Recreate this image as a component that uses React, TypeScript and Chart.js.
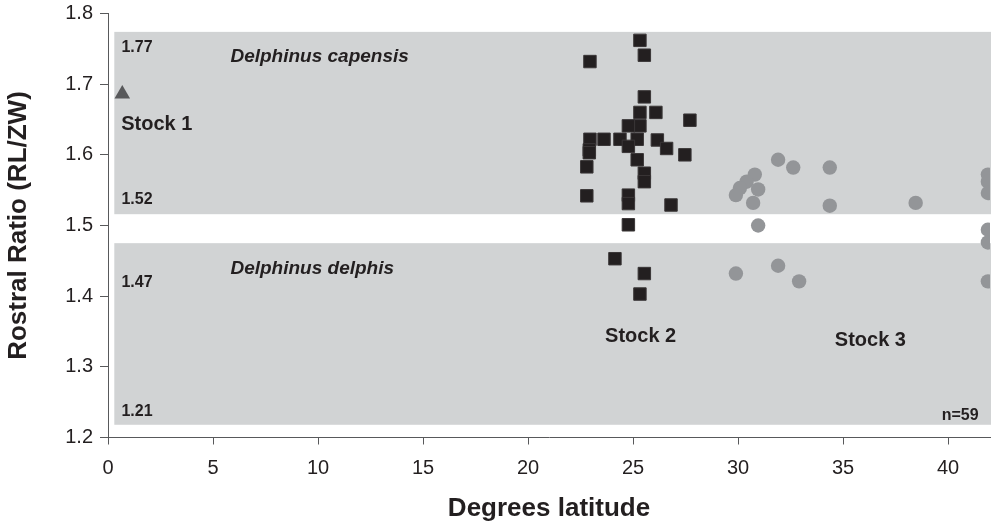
import { useEffect, useRef } from "react";
import { Chart, registerables } from "chart.js";

Chart.register(...registerables);

// ---- data ----
const stock1X = [0.68];
const stock1Y = [1.686];

const stock2X = [25.33, 25.54, 22.95, 25.54, 25.33, 26.09, 25.33, 24.78, 27.71, 23.62, 24.38, 25.2, 26.16, 26.6, 24.78, 27.47, 22.95, 22.92, 22.92, 22.8, 25.2, 25.54, 25.54, 22.8, 24.78, 24.78, 26.81, 24.78, 24.14, 25.54, 25.33];
const stock2Y = [1.762, 1.741, 1.732, 1.682, 1.66, 1.66, 1.641, 1.641, 1.649, 1.622, 1.622, 1.622, 1.621, 1.609, 1.612, 1.6, 1.622, 1.607, 1.603, 1.583, 1.593, 1.574, 1.562, 1.542, 1.543, 1.531, 1.529, 1.501, 1.453, 1.432, 1.403];

const stock3X = [31.91, 32.63, 34.37, 30.8, 30.41, 30.09, 29.9, 30.96, 30.72, 34.37, 38.46, 41.9, 41.9, 41.9, 30.96, 41.9, 41.9, 29.9, 31.91, 32.91, 41.9];
const stock3Y = [1.593, 1.582, 1.582, 1.572, 1.562, 1.553, 1.543, 1.551, 1.532, 1.528, 1.532, 1.572, 1.562, 1.546, 1.5, 1.494, 1.476, 1.432, 1.443, 1.421, 1.421];

const xTickValues = [0, 5, 10, 15, 20, 25, 30, 35, 40];
const yTickLabels = ["1.2", "1.3", "1.4", "1.5", "1.6", "1.7", "1.8"];

const bandTop = [1.774, 1.475];
const bandBottom = [1.516, 1.218];
const bandLeft = 0.3;

const labelTexts = ["1.77", "Delphinus capensis", "Stock 1", "1.52", "Delphinus delphis", "1.47", "Stock 2", "Stock 3", "1.21", "n=59"];
const labelKinds = ["value", "species", "stock", "value", "species", "value", "stock", "stock", "value", "count"];
const labelX = [0.64, 5.83, 0.63, 0.64, 5.83, 0.64, 23.67, 34.61, 0.64, 41.46];
const labelY = [1.7455, 1.732, 1.635, 1.5304, 1.431, 1.413, 1.335, 1.329, 1.2298, 1.2248];

const FONT = "'Liberation Sans', Arial, Helvetica, sans-serif";

const kindFont: Record<string, string> = {
  value: `bold 16px ${FONT}`,
  species: `italic bold 19px ${FONT}`,
  stock: `bold 20px ${FONT}`,
  count: `bold 16px ${FONT}`,
};

const bandsPlugin = {
  id: "bands",
  beforeDatasetsDraw(chart: any) {
    const { ctx, chartArea, scales } = chart;
    const xs = scales.x;
    const ys = scales.y;
    ctx.save();
    ctx.fillStyle = "#d1d3d4";
    const x0 = xs.getPixelForValue(bandLeft);
    for (let i = 0; i < bandTop.length; i++) {
      const y0 = ys.getPixelForValue(bandTop[i]);
      const y1 = ys.getPixelForValue(bandBottom[i]);
      ctx.fillRect(x0, y0, chartArea.right - x0 + 1, y1 - y0);
    }
    ctx.fillStyle = "#231f20";
    ctx.textBaseline = "alphabetic";
    for (let i = 0; i < labelTexts.length; i++) {
      const kind = labelKinds[i];
      ctx.font = kindFont[kind];
      ctx.textAlign = kind === "count" ? "right" : "left";
      ctx.fillText(labelTexts[i], xs.getPixelForValue(labelX[i]), ys.getPixelForValue(labelY[i]));
    }
    ctx.restore();
  },
};

function toPoints(xs: number[], ys: number[]) {
  return xs.map((x, i) => ({ x, y: ys[i] }));
}

export default function App() {
  const ref = useRef<HTMLCanvasElement | null>(null);

  useEffect(() => {
    if (!ref.current) return;
    const axisColor = "#58595b";
    const textColor = "#231f20";
    const chart = new Chart(ref.current, {
      type: "scatter",
      data: {
        datasets: [
          {
            label: "Stock 1",
            data: toPoints(stock1X, stock1Y),
            pointStyle: "triangle",
            pointRadius: 9,
            pointBackgroundColor: "#58595b",
            pointBorderColor: "#58595b",
            pointBorderWidth: 0,
          },
          {
            label: "Stock 2",
            data: toPoints(stock2X, stock2Y),
            pointStyle: "rect",
            pointRadius: 8.8,
            pointBackgroundColor: "#231f20",
            pointBorderColor: "#3a3637",
            pointBorderWidth: 1,
          },
          {
            label: "Stock 3",
            data: toPoints(stock3X, stock3Y),
            pointStyle: "circle",
            pointRadius: 7.2,
            pointBackgroundColor: "#939598",
            pointBorderColor: "#939598",
            pointBorderWidth: 0,
          },
        ],
      },
      options: {
        responsive: false,
        animation: false,
        devicePixelRatio: 1,
        layout: { autoPadding: false, padding: { top: 13.5, right: 1, left: 0, bottom: 0 } },
        plugins: {
          legend: { display: false },
          tooltip: { enabled: false },
        },
        scales: {
          x: {
            type: "linear",
            min: 0,
            max: 42,
            afterBuildTicks: (scale: any) => {
              scale.ticks = xTickValues.map((v) => ({ value: v }));
            },
            afterFit: (scale: any) => {
              scale.height = 86.5;
              scale.paddingLeft = 0;
              scale.paddingRight = 0;
            },
            ticks: {
              color: textColor,
              font: { family: FONT, size: 20 },
              padding: 12,
              maxRotation: 0,
              callback: (v: any) => String(v),
            },
            grid: {
              display: true,
              drawOnChartArea: false,
              drawTicks: true,
              tickLength: 7,
              color: axisColor,
              lineWidth: 1,
            },
            border: { display: true, color: axisColor, width: 1 },
            title: {
              display: true,
              text: "Degrees latitude",
              color: textColor,
              font: { family: FONT, size: 26, weight: "bold" },
              padding: { top: 0, bottom: 0 },
            },
          },
          y: {
            type: "linear",
            min: 1.2,
            max: 1.8,
            afterBuildTicks: (scale: any) => {
              scale.ticks = yTickLabels.map((t) => ({ value: parseFloat(t) }));
            },
            afterFit: (scale: any) => {
              scale.width = 108;
              scale.paddingTop = 0;
              scale.paddingBottom = 0;
            },
            ticks: {
              color: textColor,
              font: { family: FONT, size: 20 },
              padding: 7,
              callback: (v: any) => {
                const s = Number(v).toFixed(1);
                return yTickLabels.includes(s) ? s : "";
              },
            },
            grid: {
              display: true,
              drawOnChartArea: false,
              drawTicks: true,
              tickLength: 8,
              color: axisColor,
              lineWidth: 1,
            },
            border: { display: true, color: axisColor, width: 1 },
            title: {
              display: true,
              text: "Rostral Ratio (RL/ZW)",
              color: textColor,
              font: { family: FONT, size: 26, weight: "bold" },
              padding: { top: 3, bottom: 0 },
            },
          },
        },
      },
      plugins: [bandsPlugin],
    } as any);
    return () => chart.destroy();
  }, []);

  return (
    <div style={{ position: "fixed", left: 0, top: 0, width: 991, height: 524, background: "#fff" }}>
      <canvas ref={ref} width={991} height={524} style={{ display: "block" }} />
    </div>
  );
}
